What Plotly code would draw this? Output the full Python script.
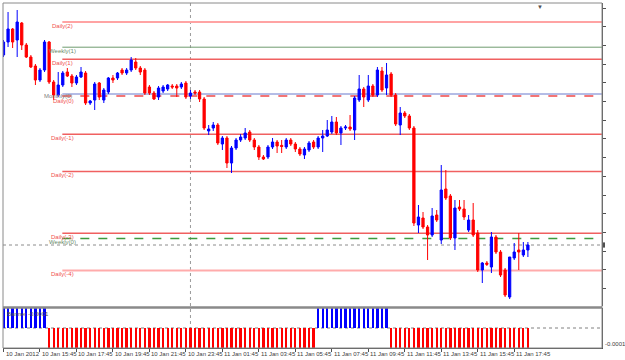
import plotly.graph_objects as go

# ---------------- data ----------------
opens = [1.28725, 1.28790, 1.28855, 1.28800, 1.28885, 1.28775, 1.28715, 1.28670, 1.28600, 1.28650,
         1.28790, 1.28590, 1.28525, 1.28575, 1.28640, 1.28620, 1.28585, 1.28615, 1.28635, 1.28485,
         1.28500, 1.28585, 1.28500, 1.28540, 1.28610, 1.28610, 1.28650, 1.28635, 1.28650, 1.28690,
         1.28660, 1.28650, 1.28565, 1.28535, 1.28515, 1.28545, 1.28555, 1.28570, 1.28570, 1.28565,
         1.28585, 1.28520, 1.28540, 1.28540, 1.28505, 1.28345, 1.28360, 1.28375, 1.28280, 1.28310,
         1.28185, 1.28260, 1.28300, 1.28310, 1.28340, 1.28300, 1.28265, 1.28215, 1.28215, 1.28265,
         1.28290, 1.28273, 1.28265, 1.28300, 1.28280, 1.28255, 1.28225, 1.28250, 1.28290, 1.28265,
         1.28310, 1.28320, 1.28340, 1.28390, 1.28335, 1.28360, 1.28365, 1.28350, 1.28500, 1.28555,
         1.28500, 1.28570, 1.28525, 1.28645, 1.28560, 1.28630, 1.28525, 1.28375, 1.28435, 1.28420,
         1.28360, 1.27875, 1.27910, 1.27865, 1.27825, 1.27925, 1.27800, 1.28055, 1.28020, 1.27810,
         1.27965, 1.27955, 1.27850, 1.27900, 1.27835, 1.27650, 1.27685, 1.27665, 1.27815, 1.27740,
         1.27650, 1.27515, 1.27710, 1.27750, 1.27725, 1.27750]
highs = [1.28800, 1.28940, 1.28860, 1.28950, 1.28890, 1.28785, 1.28725, 1.28680, 1.28660, 1.28800,
         1.28795, 1.28600, 1.28640, 1.28645, 1.28660, 1.28630, 1.28625, 1.28665, 1.28645, 1.28500,
         1.28590, 1.28590, 1.28560, 1.28615, 1.28625, 1.28640, 1.28660, 1.28660, 1.28715, 1.28710,
         1.28670, 1.28660, 1.28575, 1.28545, 1.28570, 1.28575, 1.28580, 1.28580, 1.28580, 1.28590,
         1.28595, 1.28550, 1.28550, 1.28550, 1.28515, 1.28375, 1.28390, 1.28385, 1.28320, 1.28320,
         1.28270, 1.28310, 1.28330, 1.28360, 1.28350, 1.28310, 1.28275, 1.28225, 1.28275, 1.28310,
         1.28300, 1.28300, 1.28310, 1.28310, 1.28290, 1.28265, 1.28265, 1.28295, 1.28300, 1.28320,
         1.28350, 1.28400, 1.28420, 1.28415, 1.28370, 1.28375, 1.28425, 1.28520, 1.28625, 1.28565,
         1.28625, 1.28580, 1.28665, 1.28665, 1.28685, 1.28640, 1.28535, 1.28465, 1.28445, 1.28430,
         1.28370, 1.27975, 1.27940, 1.27875, 1.27960, 1.27950, 1.28175, 1.28150, 1.28030, 1.28000,
         1.28000, 1.28000, 1.27925, 1.27985, 1.27850, 1.27690, 1.27695, 1.27840, 1.27825, 1.27750,
         1.27660, 1.27715, 1.27785, 1.27835, 1.27790, 1.27790]
lows = [1.28715, 1.28765, 1.28760, 1.28715, 1.28750, 1.28710, 1.28660, 1.28575, 1.28590, 1.28640,
        1.28580, 1.28500, 1.28515, 1.28565, 1.28615, 1.28565, 1.28575, 1.28610, 1.28475, 1.28475,
        1.28450, 1.28500, 1.28485, 1.28530, 1.28585, 1.28600, 1.28625, 1.28625, 1.28640, 1.28650,
        1.28625, 1.28525, 1.28525, 1.28500, 1.28500, 1.28535, 1.28545, 1.28555, 1.28515, 1.28555,
        1.28505, 1.28505, 1.28525, 1.28490, 1.28350, 1.28325, 1.28345, 1.28275, 1.28250, 1.28160,
        1.28135, 1.28250, 1.28290, 1.28300, 1.28290, 1.28250, 1.28200, 1.28200, 1.28205, 1.28255,
        1.28235, 1.28235, 1.28255, 1.28270, 1.28240, 1.28220, 1.28205, 1.28240, 1.28255, 1.28255,
        1.28240, 1.28315, 1.28330, 1.28325, 1.28275, 1.28350, 1.28345, 1.28300, 1.28490, 1.28465,
        1.28490, 1.28515, 1.28515, 1.28540, 1.28525, 1.28515, 1.28370, 1.28325, 1.28410, 1.28350,
        1.27870, 1.27835, 1.27855, 1.27700, 1.27815, 1.27890, 1.27780, 1.28000, 1.27800, 1.27750,
        1.27945, 1.27900, 1.27840, 1.27815, 1.27640, 1.27585, 1.27670, 1.27635, 1.27730, 1.27615,
        1.27515, 1.27505, 1.27700, 1.27650, 1.27715, 1.27715]
closes = [1.28790, 1.28855, 1.28790, 1.28890, 1.28775, 1.28715, 1.28665, 1.28600, 1.28650, 1.28790,
          1.28590, 1.28525, 1.28575, 1.28635, 1.28620, 1.28585, 1.28615, 1.28640, 1.28485, 1.28495,
          1.28580, 1.28515, 1.28550, 1.28610, 1.28600, 1.28635, 1.28635, 1.28650, 1.28700, 1.28660,
          1.28640, 1.28535, 1.28535, 1.28505, 1.28560, 1.28565, 1.28575, 1.28565, 1.28560, 1.28580,
          1.28515, 1.28535, 1.28535, 1.28505, 1.28360, 1.28355, 1.28375, 1.28285, 1.28310, 1.28185,
          1.28260, 1.28300, 1.28315, 1.28335, 1.28300, 1.28265, 1.28215, 1.28205, 1.28265, 1.28290,
          1.28270, 1.28268, 1.28300, 1.28280, 1.28255, 1.28230, 1.28255, 1.28285, 1.28265, 1.28310,
          1.28320, 1.28350, 1.28390, 1.28335, 1.28360, 1.28365, 1.28355, 1.28510, 1.28555, 1.28515,
          1.28570, 1.28525, 1.28650, 1.28550, 1.28625, 1.28525, 1.28380, 1.28435, 1.28420, 1.28360,
          1.27885, 1.27915, 1.27865, 1.27825, 1.27920, 1.27900, 1.28050, 1.28010, 1.27810, 1.27960,
          1.27955, 1.27915, 1.27900, 1.27825, 1.27650, 1.27685, 1.27678, 1.27815, 1.27740, 1.27625,
          1.27525, 1.27715, 1.27740, 1.27740, 1.27750, 1.27775]

U, D = 0.0001, -0.0001
signal = [U, U, U, U, U, U, U, U, U, U,
          D, D, D, D, D, D, D, D, D, D,
          D, D, D, D, D, D, D, D, D, D,
          D, D, D, D, D, D, D, D, D, D,
          D, D, D, D, D, D, D, D, D, D,
          D, D, D, D, D, D, D, D, D, D,
          D, D, D, D, D, D, D, D, D, U,
          U, U, U, U, U, U, U, U, U, U,
          U, U, U, U, U, D, D, D, D, D,
          D, D, D, D, D, D, D, D, D, D,
          D, D, D, D, D, D, D, D, D, D,
          D, D, D, D, D, D]

tick_bars = [0, 8, 16, 24, 32, 40, 48, 56, 64, 72, 80, 88, 96, 104, 112]
tick_labels = ["10 Jan 2012", "10 Jan 15:45", "10 Jan 17:45", "10 Jan 19:45", "10 Jan 21:45",
               "10 Jan 23:45", "11 Jan 01:45", "11 Jan 03:45", "11 Jan 05:45", "11 Jan 07:45",
               "11 Jan 09:45", "11 Jan 11:45", "11 Jan 13:45", "11 Jan 15:45", "11 Jan 17:45"]

level_names = ["Daily(2)", "Weekly(1)", "Daily(1)", "Monthly(0)", "Daily(0)",
               "Daily(-1)", "Daily(-2)", "Daily(-3)", "Weekly(0)", "Daily(-4)"]
level_values = [1.28890, 1.28764, 1.28704, 1.28530, 1.28520,
                1.28329, 1.28142, 1.27834, 1.27807, 1.27647]
level_start_bar = 12.9
bid_price = 1.27775
day_break_bar = 41
indicator_name = "Banner -0.0001"
axis_label_low = "-0.0001"

# ---------------- styles ----------------
level_style = {
    "Daily(2)":   dict(color="#ffa3a3", dash="solid", width=2, text="#f05050"),
    "Weekly(1)":  dict(color="#6e9c6e", dash="solid", width=1, text="#6a8a6a"),
    "Daily(1)":   dict(color="#f06060", dash="solid", width=1.5, text="#f05050"),
    "Monthly(0)": dict(color="#b4bce6", dash="solid", width=2, text="#808080"),
    "Daily(0)":   dict(color="#f04848", dash="dash", width=1.5, text="#f05050"),
    "Daily(-1)":  dict(color="#f06060", dash="solid", width=1.5, text="#f05050"),
    "Daily(-2)":  dict(color="#f06060", dash="solid", width=1.5, text="#f05050"),
    "Daily(-3)":  dict(color="#f06060", dash="solid", width=1.5, text="#f05050"),
    "Weekly(0)":  dict(color="#3f9a3f", dash="dash", width=1.5, text="#6a8a6a"),
    "Daily(-4)":  dict(color="#ffabab", dash="solid", width=2, text="#f05050"),
}
label_dx = {"Monthly(0)": -1.0, "Daily(0)": 0.3}
label_dy = {"Monthly(0)": -2, "Daily(0)": -4.5}

FONT = "Liberation Sans"
BLUE, RED = "#0000ff", "#ff0000"

bars = list(range(len(opens)))

fig = go.Figure()
fig.add_trace(go.Candlestick(
    x=bars, open=opens, high=highs, low=lows, close=closes,
    increasing=dict(line=dict(color=BLUE, width=1), fillcolor=BLUE),
    decreasing=dict(line=dict(color=RED, width=1), fillcolor=RED),
    whiskerwidth=0, showlegend=False, hoverinfo="skip",
    xaxis="x", yaxis="y"))
fig.add_trace(go.Bar(
    x=bars, y=signal, width=0.5,
    marker=dict(color=[BLUE if v > 0 else RED for v in signal], line=dict(width=0)),
    showlegend=False, hoverinfo="skip", xaxis="x2", yaxis="y2"))

# plot area: x 3..602 px, y 3..348 px
H = 345.0
main_bottom = (348 - 306) / H
low_top = (348 - 308) / H
xr = [-0.11, 131.25]

shapes = []
annotations = []
for name, val in zip(level_names, level_values):
    st = level_style[name]
    shapes.append(dict(type="line", xref="x", yref="y", x0=level_start_bar, x1=xr[1],
                       y0=val, y1=val, line=dict(color=st["color"], width=st["width"], dash=st["dash"]),
                       layer="below"))
    annotations.append(dict(x=level_start_bar + label_dx.get(name, 0), y=val, xref="x", yref="y",
                            text=name, showarrow=False, xanchor="center", yanchor="middle",
                            yshift=label_dy.get(name, -3.5),
                            font=dict(family=FONT, size=6, color=st["text"])))

# bid line
shapes.append(dict(type="line", xref="paper", yref="y", x0=0, x1=1, y0=bid_price, y1=bid_price,
                   line=dict(color="#8c8c8c", width=1, dash="dot"), layer="below"))
# bid marker on axis
shapes.append(dict(type="rect", xref="paper", yref="y", x0=1.0, x1=1.005,
                   y0=bid_price - 0.00013, y1=bid_price + 0.00013,
                   fillcolor="#505050", line=dict(width=0)))
# day separator
shapes.append(dict(type="line", xref="x", yref="paper", x0=day_break_bar, x1=day_break_bar, y0=0, y1=1,
                   line=dict(color="#9a9a9a", width=1, dash="dot"), layer="below"))
# zero line of indicator
shapes.append(dict(type="line", xref="paper", yref="y2", x0=0, x1=1, y0=0, y1=0,
                   line=dict(color="#808080", width=1, dash="dot"), layer="below"))
# panel separator
sep = (348 - 307.5) / H
shapes.append(dict(type="line", xref="paper", yref="paper", x0=0, x1=1, y0=sep, y1=sep,
                   line=dict(color="#8a8a8a", width=2.5)))
# frame
shapes.append(dict(type="rect", xref="paper", yref="paper", x0=0, x1=1, y0=0, y1=1,
                   line=dict(color="#8a8a8a", width=1)))

for b, t in zip(tick_bars, tick_labels):
    annotations.append(dict(x=b, y=0, xref="x", yref="paper", text=t, showarrow=False,
                            xanchor="left", yanchor="middle", yshift=-6, xshift=0,
                            font=dict(family=FONT, size=6, color="#404040")))
annotations.append(dict(x=0.003, y=low_top, xref="paper", yref="paper", text=indicator_name,
                        showarrow=False, xanchor="left", yanchor="top", yshift=-1,
                        font=dict(family=FONT, size=6, color="#505050")))
annotations.append(dict(x=1, y=D, xref="paper", yref="y2", text=axis_label_low, showarrow=False,
                        xanchor="left", yanchor="middle", xshift=1, yshift=4,
                        font=dict(family=FONT, size=6, color="#404040")))
annotations.append(dict(x=117.65, y=1, xref="x", yref="paper", text="▼", showarrow=False,
                        xanchor="center", yanchor="top", yshift=1,
                        font=dict(family=FONT, size=6, color="#505050")))

fig.update_layout(
    width=625, height=360,
    margin=dict(l=3, r=23, t=3, b=12, autoexpand=False),
    paper_bgcolor="white", plot_bgcolor="white",
    showlegend=False, bargap=0,
    xaxis=dict(domain=[0, 1], anchor="y", range=xr, showticklabels=False, ticks="",
               showgrid=False, zeroline=False, showline=False, rangeslider=dict(visible=False)),
    yaxis=dict(domain=[main_bottom, 1], anchor="x", side="right",
               range=[1.29 - 306 * 0.00005, 1.29 - 3 * 0.00005],
               showticklabels=False, ticks="outside", ticklen=3, tickcolor="#505050",
               tick0=1.2896, dtick=0.000935,
               showgrid=False, zeroline=False, showline=True, linecolor="#505050", linewidth=1),
    xaxis2=dict(domain=[0, 1], anchor="y2", matches="x", range=xr, showticklabels=False,
                tickmode="array", tickvals=tick_bars, ticks="outside", ticklen=3, tickcolor="#505050",
                showgrid=False, zeroline=False, showline=True, linecolor="#505050", linewidth=1),
    yaxis2=dict(domain=[0, low_top], anchor="x2", side="right", range=[-0.0001, 0.0001],
                showticklabels=False, ticks="", showgrid=False, zeroline=False,
                showline=True, linecolor="#505050", linewidth=1),
    shapes=shapes, annotations=annotations,
)

fig.write_html("out.html")
